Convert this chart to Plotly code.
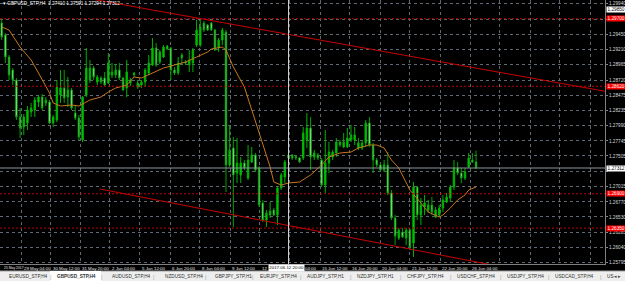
import plotly.graph_objects as go

# ---------------- data (GBPUSD_STP, H4) ----------------
opens = [1.29632, 1.29440, 1.29088, 1.28880, 1.28720, 1.28128, 1.27968, 1.28032, 1.28208, 1.28240,
         1.28368, 1.28448, 1.28352, 1.28368, 1.28032, 1.28080, 1.28480, 1.28592, 1.28448, 1.28560,
         1.28192, 1.28112, 1.27760, 1.28480, 1.28720, 1.28912, 1.28688, 1.28752, 1.28752, 1.28672,
         1.28800, 1.28800, 1.28880, 1.28752, 1.28592, 1.28672, 1.28832, 1.28608, 1.28640, 1.28688,
         1.28832, 1.28960, 1.29232, 1.29008, 1.29088, 1.29264, 1.29232, 1.28880, 1.28832, 1.29120,
         1.29008, 1.28960, 1.28992, 1.29280, 1.29280, 1.29632, 1.29600, 1.29632, 1.29520, 1.29232,
         1.29360, 1.29488, 1.27360, 1.27632, 1.27232, 1.27200, 1.27392, 1.27152, 1.27408, 1.27520,
         1.27312, 1.26752, 1.26480, 1.26560, 1.26640, 1.26560, 1.26992, 1.27168, 1.27520, 1.27520,
         1.27472, 1.27472, 1.27472, 1.27760, 1.27952, 1.27488, 1.27520, 1.27440, 1.27040, 1.27392,
         1.27488, 1.27552, 1.27728, 1.27648, 1.27648, 1.27760, 1.27760, 1.27632, 1.27632, 1.27712,
         1.28032, 1.27680, 1.27440, 1.27360, 1.27280, 1.27360, 1.26912, 1.26512, 1.26192, 1.26288,
         1.26192, 1.26320, 1.26112, 1.27008, 1.26560, 1.26688, 1.26640, 1.26720, 1.26528, 1.26560,
         1.26672, 1.26768, 1.26832, 1.27008, 1.27312, 1.27232, 1.27152, 1.27328, 1.27440, 1.27410]
highs = [1.29712, 1.29472, 1.29120, 1.28912, 1.28752, 1.28272, 1.28176, 1.28304, 1.28352, 1.28448,
         1.28480, 1.28496, 1.28448, 1.28400, 1.28160, 1.28720, 1.28880, 1.28880, 1.28768, 1.28592,
         1.28320, 1.28160, 1.28464, 1.29232, 1.29040, 1.28944, 1.28800, 1.28784, 1.28848, 1.29152,
         1.28992, 1.28976, 1.28992, 1.28768, 1.29040, 1.28752, 1.28848, 1.28720, 1.28720, 1.28912,
         1.29120, 1.29392, 1.29312, 1.29200, 1.29280, 1.29280, 1.29248, 1.28928, 1.29088, 1.29152,
         1.29040, 1.29200, 1.29232, 1.29680, 1.29680, 1.29664, 1.29616, 1.29648, 1.29536, 1.29392,
         1.29552, 1.29520, 1.28000, 1.27808, 1.27792, 1.27488, 1.27440, 1.27680, 1.27648, 1.27552,
         1.27344, 1.26800, 1.26640, 1.26768, 1.26672, 1.27024, 1.27232, 1.27440, 1.27552, 1.27536,
         1.27520, 1.27488, 1.27968, 1.28192, 1.28128, 1.27600, 1.27552, 1.27472, 1.27920, 1.27728,
         1.27600, 1.27792, 1.27760, 1.27872, 1.27952, 1.28000, 1.27968, 1.27792, 1.27760, 1.28080,
         1.28128, 1.27712, 1.27472, 1.27392, 1.27440, 1.27568, 1.26960, 1.26560, 1.26352, 1.26352,
         1.26352, 1.26352, 1.27088, 1.27024, 1.26832, 1.26880, 1.26800, 1.26848, 1.26688, 1.26720,
         1.26880, 1.26912, 1.27040, 1.27440, 1.27408, 1.27312, 1.27312, 1.27552, 1.27552, 1.27591]
lows = [1.29360, 1.28992, 1.28720, 1.28640, 1.28080, 1.27792, 1.27840, 1.27920, 1.28128, 1.28128,
        1.28288, 1.28240, 1.28304, 1.28016, 1.27968, 1.28048, 1.28352, 1.28352, 1.28288, 1.28240,
        1.28080, 1.27760, 1.27728, 1.28448, 1.28672, 1.28720, 1.28640, 1.28656, 1.28624, 1.28656,
        1.28752, 1.28752, 1.28720, 1.28544, 1.28448, 1.28624, 1.28768, 1.28576, 1.28592, 1.28608,
        1.28800, 1.28944, 1.28928, 1.28976, 1.29072, 1.29200, 1.28720, 1.28800, 1.28800, 1.28960,
        1.28960, 1.28848, 1.28848, 1.29248, 1.29248, 1.29488, 1.29504, 1.29504, 1.29184, 1.29168,
        1.29280, 1.26928, 1.27328, 1.26368, 1.27072, 1.27072, 1.27280, 1.27120, 1.27392, 1.27248,
        1.26688, 1.26448, 1.26368, 1.26512, 1.26544, 1.26400, 1.26960, 1.27072, 1.27440, 1.27440,
        1.27440, 1.27392, 1.27440, 1.27632, 1.27280, 1.27440, 1.27440, 1.27008, 1.26912, 1.27232,
        1.27440, 1.27488, 1.27648, 1.27632, 1.27632, 1.27728, 1.27680, 1.27600, 1.27600, 1.27648,
        1.27648, 1.27232, 1.27328, 1.27264, 1.27248, 1.26880, 1.26480, 1.26080, 1.26160, 1.26192,
        1.26080, 1.26000, 1.25888, 1.26480, 1.26400, 1.26560, 1.26592, 1.26560, 1.26512, 1.26528,
        1.26608, 1.26752, 1.26768, 1.26960, 1.27200, 1.27072, 1.27120, 1.27312, 1.27392, 1.27294]
closes = [1.29408, 1.29088, 1.28800, 1.28720, 1.28128, 1.27952, 1.28128, 1.28240, 1.28272, 1.28400,
          1.28448, 1.28272, 1.28400, 1.28032, 1.28128, 1.28608, 1.28592, 1.28432, 1.28560, 1.28272,
          1.28112, 1.27808, 1.28448, 1.28912, 1.28912, 1.28768, 1.28768, 1.28688, 1.28640, 1.28992,
          1.28848, 1.28880, 1.28752, 1.28560, 1.28848, 1.28720, 1.28800, 1.28672, 1.28688, 1.28880,
          1.28992, 1.29232, 1.28960, 1.29168, 1.29248, 1.29216, 1.28880, 1.28832, 1.28992, 1.29072,
          1.28992, 1.29040, 1.29200, 1.29520, 1.29568, 1.29520, 1.29520, 1.29520, 1.29200, 1.29360,
          1.29520, 1.27360, 1.27600, 1.27200, 1.27392, 1.27392, 1.27312, 1.27440, 1.27520, 1.27280,
          1.26720, 1.26480, 1.26592, 1.26624, 1.26560, 1.26992, 1.27200, 1.27408, 1.27472, 1.27472,
          1.27488, 1.27408, 1.27872, 1.27952, 1.27488, 1.27552, 1.27472, 1.27040, 1.27392, 1.27568,
          1.27568, 1.27728, 1.27680, 1.27728, 1.27792, 1.27840, 1.27840, 1.27712, 1.27712, 1.28032,
          1.27680, 1.27440, 1.27360, 1.27280, 1.27360, 1.26912, 1.26512, 1.26224, 1.26320, 1.26208,
          1.26320, 1.26048, 1.27008, 1.26560, 1.26720, 1.26752, 1.26720, 1.26608, 1.26640, 1.26672,
          1.26800, 1.26848, 1.27008, 1.27312, 1.27232, 1.27152, 1.27248, 1.27472, 1.27408, 1.27312]
bars = list(range(len(opens)))

# moving average
ma_bars = [0, 2, 5, 8, 10, 13, 14, 16, 19, 21, 24, 27, 29, 31, 34, 36, 38, 41, 44, 47, 50, 53, 56, 57,
           60, 61, 63, 66, 68, 71, 73, 74, 76, 78, 81, 84, 87, 89, 92, 95, 97, 100, 102, 104, 106, 108,
           111, 114, 116, 119, 120, 122, 124, 126, 127, 129]
ma_vals = [1.29568, 1.29520, 1.29248, 1.29040, 1.28832, 1.28512, 1.28352, 1.28304, 1.28320, 1.28304,
           1.28400, 1.28448, 1.28528, 1.28592, 1.28640, 1.28768, 1.28752, 1.28832, 1.28912, 1.28960,
           1.29008, 1.29088, 1.29168, 1.29216, 1.29248, 1.29200, 1.28928, 1.28608, 1.28240, 1.27712,
           1.27328, 1.27088, 1.27040, 1.27072, 1.27088, 1.27200, 1.27360, 1.27488, 1.27552, 1.27568,
           1.27632, 1.27680, 1.27680, 1.27632, 1.27440, 1.27312, 1.26960, 1.26752, 1.26608, 1.26528,
           1.26560, 1.26672, 1.26800, 1.26880, 1.26960, 1.27008]

price_ticks = [1.25795, 1.26040, 1.26285, 1.26530, 1.26770, 1.27015, 1.27260, 1.27505, 1.27745,
               1.27990, 1.28235, 1.28475, 1.28720, 1.28965, 1.29210, 1.29450, 1.29695, 1.29940]
hidden_ticks = [1.27260, 1.29695]  # covered by price boxes in the original

time_pos = [0.1, 5.5, 13.4, 21.3, 29.4, 37.6, 45.8, 53.9, 62.1, 70.2, 81.9, 86.6, 94.7, 102.9,
            111.0, 119.2, 127.4]
time_labels = ["25 May 2017", "29 May 04:00", "30 May 12:00", "31 May 20:00", "2 Jun 04:00",
               "5 Jun 12:00", "6 Jun 20:00", "8 Jun 04:00", "9 Jun 12:00", "12",
               "04:00", "15 Jun 12:00", "16 Jun 20:00", "20 Jun 04:00", "21 Jun 12:00",
               "22 Jun 20:00", "26 Jun 04:00"]
grid_pos = [5.5, 13.4, 21.3, 29.4, 37.6, 45.8, 53.9, 62.1, 70.2, 78.4, 86.6, 94.7, 102.9,
            111.0, 119.2, 127.4, 135.5, 143.7, 151.8, 160.0]

levels = [1.29700, 1.28620, 1.26900, 1.26350]
upper_tl_x = [24, 165]
upper_tl_y = [1.30020, 1.28530]
lower_tl_x = [26.7, 140]
lower_tl_y = [1.26976, 1.25685]
bid_price = 1.27312
vline_bar = 78
vline_label = "2017.06.12 20:00"
top_box_price = 1.29850

title_text = "GBPUSD_STP,H4  1.27410 1.27591 1.27294 1.27312"
tabs = ["EURUSD_STP,H4", "GBPUSD_STP,H4", "AUDUSD_STP,H4", "NZDUSD_STP,H4", "GBPJPY_STP,H1",
        "EURJPY_STP,H4", "AUDJPY_STP,H1", "NZDJPY_STP,H1", "CHFJPY_STP,H4", "USDCHF_STP,H4",
        "USDJPY_STP,H4", "USDCAD_STP,H4", "US"]
active_tab = 1

# ---------------- layout geometry ----------------
W, H = 625, 281
ML, MR, MT, MB = 0, 20, 0, 17
PW, PH = W - ML - MR, H - MT - MB
FONT = "Liberation Sans"
FS = 4.7
FT = 4.4


def xp(px):
    return px / PW


def yp(py):
    return (PH - py) / PH


fig = go.Figure()
fig.add_trace(go.Candlestick(
    x=bars, open=opens, high=highs, low=lows, close=closes,
    increasing=dict(line=dict(color="#00b000", width=1), fillcolor="#00d000"),
    decreasing=dict(line=dict(color="#00a000", width=1), fillcolor="#ffffff"),
    whiskerwidth=0, hoverinfo="skip", showlegend=False))
fig.add_trace(go.Scatter(x=ma_bars, y=ma_vals, mode="lines",
                         line=dict(color="#c8761c", width=1), showlegend=False, hoverinfo="skip"))
fig.add_trace(go.Scatter(x=upper_tl_x, y=upper_tl_y, mode="lines",
                         line=dict(color="#c80000", width=1), showlegend=False, hoverinfo="skip"))
fig.add_trace(go.Scatter(x=lower_tl_x, y=lower_tl_y, mode="lines",
                         line=dict(color="#c80000", width=1), showlegend=False, hoverinfo="skip"))

shapes = []
for lv in levels:
    shapes.append(dict(type="line", xref="paper", yref="y", x0=0, x1=1, y0=lv, y1=lv,
                       line=dict(color="#c00000", width=1, dash="2px,2px"), layer="above"))
shapes.append(dict(type="line", xref="paper", yref="y", x0=0, x1=1, y0=bid_price, y1=bid_price,
                   line=dict(color="#8c96a0", width=1), layer="above"))
shapes.append(dict(type="line", xref="x", yref="paper", x0=vline_bar, x1=vline_bar, y0=0, y1=1,
                   line=dict(color="#d0d0d0", width=1), layer="above"))
# tab strip
shapes.append(dict(type="rect", xref="paper", yref="paper", x0=0, x1=W / PW,
                   y0=yp(271), y1=yp(H + 2), fillcolor="#eeeeee", line=dict(width=0), layer="above"))
shapes.append(dict(type="line", xref="paper", yref="paper", x0=0, x1=W / PW,
                   y0=yp(271), y1=yp(271), line=dict(color="#a0a0a0", width=1), layer="above"))

annotations = []
# title
annotations.append(dict(xref="paper", yref="paper", x=xp(1), y=yp(4), xanchor="left",
                        yanchor="middle", text="▾ " + title_text, showarrow=False,
                        font=dict(family=FONT, size=FS, color="#ffffff")))
# time labels
for i, (pos, lab) in enumerate(zip(time_pos, time_labels)):
    annotations.append(dict(xref="x", yref="paper", x=pos, y=yp(268), xanchor="left",
                            yanchor="middle", text=lab, showarrow=False,
                            font=dict(family=FONT, size=3.4 if i == 0 else FT, color="#e6e6e6")))
annotations.append(dict(xref="x", yref="paper", x=vline_bar - 5.5, y=yp(268), xanchor="left",
                        yanchor="middle", text=vline_label, showarrow=False, bgcolor="#ffffff",
                        borderpad=0.3, font=dict(family=FONT, size=FT, color="#000000")))
# right-axis boxes
for lv in levels:
    annotations.append(dict(xref="paper", yref="y", x=1 + 1 / PW, y=lv, xanchor="left",
                            yanchor="middle", text="%.5f" % lv, showarrow=False, width=18,
                            bgcolor="#ff0000", borderpad=0.2,
                            font=dict(family=FONT, size=FS, color="#ffffff")))
for bx in [bid_price, top_box_price]:
    annotations.append(dict(xref="paper", yref="y", x=1 + 1 / PW, y=bx, xanchor="left",
                            yanchor="middle", text="%.5f" % bx, showarrow=False, width=18,
                            bgcolor="#ffffff", borderpad=0.2,
                            font=dict(family=FONT, size=FS, color="#000000")))
# tabs
tab_x = [7, 55, 110, 163, 213, 258, 305, 355, 405, 455, 505, 553, 605]
sep_x = [50, 102, 154, 205, 253, 300, 350, 400, 450, 500, 548, 600]
shapes.append(dict(type="rect", xref="paper", yref="paper", x0=xp(50), x1=xp(101),
                   y0=yp(271), y1=yp(H + 2), fillcolor="#ffffff", line=dict(width=0), layer="above"))
for i, (tx, tl) in enumerate(zip(tab_x, tabs)):
    annotations.append(dict(xref="paper", yref="paper", x=xp(tx), y=yp(276.5), xanchor="left",
                            yanchor="middle", showarrow=False,
                            text=("<b>%s</b>" % tl) if i == active_tab else tl,
                            font=dict(family=FONT, size=FS, color="#303030")))
for sx in sep_x:
    annotations.append(dict(xref="paper", yref="paper", x=xp(sx), y=yp(276.5), xanchor="center",
                            yanchor="middle", showarrow=False, text="|",
                            font=dict(family=FONT, size=FS + 1, color="#a0a0a0")))
annotations.append(dict(xref="paper", yref="paper", x=xp(623), y=yp(276.5), xanchor="right",
                        yanchor="middle", showarrow=False, text="◂ ▸",
                        font=dict(family=FONT, size=FS, color="#404040")))

x_left = -1.7 / 3.677
x_right = (PW - 1.7) / 3.677
fig.update_layout(
    width=W, height=H, margin=dict(l=ML, r=MR, t=MT, b=MB),
    paper_bgcolor="#000000", plot_bgcolor="#000000",
    shapes=shapes, annotations=annotations, showlegend=False,
    boxgap=0.45,
    xaxis=dict(range=[x_left, x_right], rangeslider=dict(visible=False),
               tickvals=grid_pos, showticklabels=False, ticks="",
               showgrid=True, gridcolor="#5e6872", griddash="3px,3px", gridwidth=1,
               zeroline=False, showline=True, linecolor="#808080", linewidth=1),
    yaxis=dict(range=[1.25776, 1.30000], side="right", tickvals=price_ticks,
               ticktext=["" if v in hidden_ticks else "%.5f" % v for v in price_ticks],
               tickfont=dict(family=FONT, size=FS, color="#d8d8d8"),
               ticks="outside", ticklen=2, tickcolor="#808080",
               showgrid=True, gridcolor="#5e6872", griddash="3px,3px", gridwidth=1,
               zeroline=False, showline=True, linecolor="#808080", linewidth=1),
)
fig.write_html("out.html")
